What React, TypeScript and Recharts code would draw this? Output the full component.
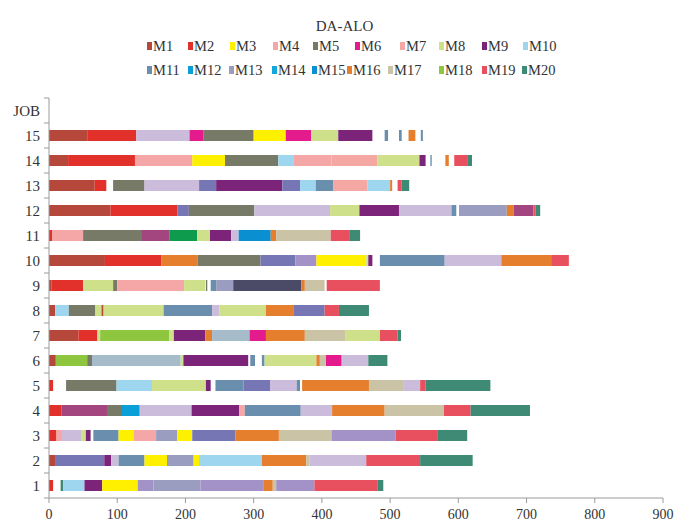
import { Bar, BarChart, Cell, XAxis, YAxis } from "recharts";

// [start, end, machine]
type Seg = [number, number, string];

const MACHINES = [
  "M1", "M2", "M3", "M4", "M5", "M6", "M7", "M8", "M9", "M10",
  "M11", "M12", "M13", "M14", "M15", "M16", "M17", "M18", "M19", "M20",
];

// M21..M27 are extra operation series that the legend leaves out
const COLORS: Record<string, string> = {
  M1: "#b5483a",
  M2: "#e2302a",
  M3: "#fff000",
  M4: "#f4a7a6",
  M5: "#767a67",
  M6: "#e31b8c",
  M7: "#f5a8a3",
  M8: "#cfe08b",
  M9: "#7b2479",
  M10: "#9fd6ef",
  M11: "#6a8eae",
  M12: "#0b9fd8",
  M13: "#9b9dc0",
  M14: "#14a7dd",
  M15: "#0a8fd0",
  M16: "#e57f2e",
  M17: "#cbc3a6",
  M18: "#8ec63f",
  M19: "#e8505f",
  M20: "#3f8a75",
  M21: "#cbbcdc",
  M22: "#7676b4",
  M23: "#a392c8",
  M24: "#a3457f",
  M25: "#0f9b4e",
  M26: "#4c4b67",
  M27: "#a7bccb",
};

const JOB_LABELS = ["JOB", "15", "14", "13", "12", "11", "10", "9", "8", "7", "6", "5", "4", "3", "2", "1"];

const JOB15: Seg[] = [
  [0, 56, "M1"], [56, 128, "M2"], [128, 206, "M21"], [206, 226, "M6"], [226, 300, "M5"],
  [300, 347, "M3"], [347, 384, "M6"], [384, 424, "M8"], [424, 474, "M9"], [492, 497, "M11"],
  [513, 517, "M11"], [527, 537, "M16"], [545, 548, "M11"],
];
const JOB14: Seg[] = [
  [0, 28, "M1"], [28, 126, "M2"], [126, 210, "M4"], [210, 258, "M3"], [258, 336, "M5"],
  [336, 359, "M10"], [359, 414, "M4"], [414, 481, "M7"], [481, 543, "M8"], [543, 552, "M9"],
  [559, 561, "M11"], [581, 586, "M16"], [594, 613, "M19"], [613, 620, "M20"],
];
const JOB13: Seg[] = [
  [0, 67, "M1"], [67, 84, "M2"], [94, 140, "M5"], [140, 220, "M21"], [220, 245, "M22"],
  [245, 342, "M9"], [342, 368, "M22"], [368, 391, "M10"], [391, 417, "M11"], [417, 467, "M7"],
  [467, 500, "M10"], [500, 503, "M16"], [511, 517, "M19"], [517, 528, "M20"],
];
const JOB12: Seg[] = [
  [0, 90, "M1"], [90, 188, "M2"], [188, 205, "M22"], [205, 301, "M5"], [301, 412, "M21"],
  [412, 455, "M8"], [455, 513, "M9"], [513, 590, "M21"], [590, 597, "M11"], [601, 671, "M13"],
  [671, 681, "M16"], [681, 710, "M24"], [710, 713, "M19"], [713, 720, "M20"],
];
const JOB11: Seg[] = [
  [0, 5, "M2"], [5, 50, "M4"], [50, 135, "M5"], [135, 177, "M24"], [177, 217, "M25"],
  [217, 236, "M8"], [236, 267, "M9"], [267, 278, "M21"], [278, 325, "M15"], [325, 333, "M16"],
  [333, 413, "M17"], [413, 440, "M19"], [440, 456, "M20"],
];
const JOB10: Seg[] = [
  [0, 82, "M1"], [82, 165, "M2"], [165, 218, "M16"], [218, 310, "M5"], [310, 361, "M22"],
  [361, 392, "M23"], [392, 465, "M3"], [465, 468, "M8"], [468, 474, "M9"], [485, 580, "M11"],
  [580, 663, "M21"], [663, 736, "M16"], [736, 762, "M19"],
];
const JOB9: Seg[] = [
  [0, 4, "M1"], [4, 50, "M2"], [50, 94, "M8"], [94, 100, "M5"], [100, 198, "M4"],
  [198, 229, "M8"], [230, 232, "M5"], [237, 245, "M11"], [245, 270, "M13"], [270, 370, "M26"],
  [370, 375, "M16"], [375, 404, "M17"], [407, 485, "M19"],
];
const JOB8: Seg[] = [
  [0, 9, "M1"], [9, 29, "M10"], [29, 68, "M5"], [68, 77, "M8"], [77, 80, "M1"],
  [80, 168, "M8"], [168, 239, "M11"], [239, 250, "M21"], [250, 318, "M8"], [318, 359, "M16"],
  [359, 404, "M22"], [404, 425, "M19"], [425, 469, "M20"],
];
const JOB7: Seg[] = [
  [0, 43, "M1"], [43, 71, "M2"], [71, 75, "M8"], [75, 176, "M18"], [176, 183, "M8"],
  [183, 229, "M9"], [229, 239, "M16"], [239, 294, "M27"], [294, 318, "M6"], [318, 375, "M16"],
  [375, 434, "M17"], [434, 485, "M8"], [485, 511, "M19"], [511, 516, "M20"],
];
const JOB6: Seg[] = [
  [0, 10, "M1"], [10, 56, "M18"], [56, 63, "M5"], [63, 193, "M27"], [193, 197, "M8"],
  [197, 292, "M9"], [295, 302, "M11"], [312, 316, "M11"], [316, 392, "M8"], [392, 397, "M16"],
  [397, 406, "M17"], [406, 429, "M6"], [429, 468, "M21"], [468, 496, "M20"],
];
const JOB5: Seg[] = [
  [0, 6, "M2"], [25, 99, "M5"], [99, 151, "M10"], [151, 230, "M8"], [230, 237, "M9"],
  [244, 285, "M11"], [285, 324, "M22"], [324, 363, "M21"], [363, 368, "M11"], [371, 469, "M16"],
  [469, 519, "M17"], [519, 544, "M21"], [544, 552, "M19"], [552, 647, "M20"],
];
const JOB4: Seg[] = [
  [0, 18, "M2"], [18, 85, "M24"], [85, 107, "M5"], [107, 133, "M12"], [133, 209, "M21"],
  [209, 279, "M9"], [279, 287, "M4"], [287, 369, "M11"], [369, 415, "M21"], [415, 492, "M16"],
  [492, 579, "M17"], [579, 618, "M19"], [618, 705, "M20"],
];
const JOB3: Seg[] = [
  [0, 11, "M2"], [11, 19, "M4"], [19, 47, "M21"], [47, 54, "M8"], [54, 61, "M9"],
  [65, 102, "M11"], [102, 124, "M3"], [124, 157, "M4"], [157, 188, "M13"], [188, 210, "M3"],
  [210, 273, "M22"], [273, 337, "M16"], [337, 414, "M17"], [414, 508, "M23"], [508, 569, "M19"],
  [569, 613, "M20"],
];
const JOB2: Seg[] = [
  [0, 10, "M1"], [10, 81, "M22"], [81, 91, "M9"], [91, 102, "M21"], [102, 140, "M11"],
  [140, 173, "M3"], [173, 212, "M13"], [212, 220, "M3"], [220, 312, "M10"], [312, 377, "M16"],
  [377, 382, "M17"], [382, 465, "M21"], [465, 544, "M19"], [544, 621, "M20"],
];
const JOB1: Seg[] = [
  [0, 6, "M2"], [17, 21, "M20"], [21, 52, "M10"], [52, 78, "M9"], [78, 130, "M3"],
  [130, 153, "M23"], [153, 222, "M13"], [222, 314, "M23"], [314, 328, "M16"], [328, 333, "M17"],
  [333, 389, "M23"], [389, 482, "M19"], [482, 490, "M20"],
];

const JOBS: Seg[][] = [
  [], JOB15, JOB14, JOB13, JOB12, JOB11, JOB10, JOB9, JOB8, JOB7, JOB6, JOB5, JOB4, JOB3, JOB2, JOB1,
];

const X_TICKS = [0, 100, 200, 300, 400, 500, 600, 700, 800, 900];

const FONT = "Liberation Serif, serif";
const AXIS = "#9a9a9a";
const TEXT = "#333";

// left edge of each legend swatch, per row
const LEGEND_X1 = [147, 188, 230, 273, 313, 355, 400, 439, 482, 523];
const LEGEND_X2 = [147, 188, 229, 272, 312, 347, 388, 439, 482, 522];

const MAX_SEGS = Math.max(...JOBS.map((j) => j.length));

// Each operation becomes a transparent gap plus a coloured piece in one stack
const rows = JOB_LABELS.map((job, r) => {
  const row: Record<string, any> = { job };
  let prev = 0;
  for (let i = 0; i < MAX_SEGS; i++) {
    const s = JOBS[r][i];
    row[`g${i}`] = s ? s[0] - prev : 0;
    row[`d${i}`] = s ? s[1] - s[0] : 0;
    row[`m${i}`] = s ? s[2] : null;
    if (s) prev = s[1];
  }
  return row;
});

const PLOT_LEFT = 49;
const BAND = 25;

function JobTick({ y, payload, index }: any) {
  return (
    <g>
      <text x={40} y={y} dy={5} textAnchor="end" fontFamily={FONT} fontSize={15} fill={TEXT}>
        {payload.value}
      </text>
      <line x1={PLOT_LEFT - 5} x2={PLOT_LEFT} y1={y + BAND / 2} y2={y + BAND / 2} stroke={AXIS} />
      {index === 0 && (
        <line x1={PLOT_LEFT - 5} x2={PLOT_LEFT} y1={y - BAND / 2} y2={y - BAND / 2} stroke={AXIS} />
      )}
    </g>
  );
}

function LegendRow({ names, xs, top }: { names: string[]; xs: number[]; top: number }) {
  return (
    <>
      {names.map((n, i) => (
        <div
          key={n}
          style={{
            position: "absolute",
            left: xs[i],
            top,
            display: "flex",
            alignItems: "center",
            gap: 1,
            fontFamily: FONT,
            fontSize: 14.5,
            color: TEXT,
            lineHeight: "16px",
            whiteSpace: "nowrap",
          }}
        >
          <span style={{ width: 5, height: 8, background: COLORS[n], display: "inline-block" }} />
          <span>{n}</span>
        </div>
      ))}
    </>
  );
}

export default function App() {
  return (
    <div style={{ position: "absolute", left: 0, top: 0, width: 689, height: 529, background: "#fff" }}>
      <div
        style={{
          position: "absolute",
          left: 0,
          width: 689,
          top: 18,
          textAlign: "center",
          fontFamily: FONT,
          fontSize: 15,
          color: TEXT,
        }}
      >
        DA-ALO
      </div>
      <LegendRow names={MACHINES.slice(0, 10)} xs={LEGEND_X1} top={38} />
      <LegendRow names={MACHINES.slice(10)} xs={LEGEND_X2} top={62} />
      <BarChart
        width={689}
        height={529}
        data={rows}
        layout="vertical"
        margin={{ top: 98, right: 26, bottom: 0, left: 0 }}
        barCategoryGap={0}
        style={{ position: "absolute", left: 0, top: 0 }}
      >
        <XAxis
          type="number"
          domain={[0, 900]}
          ticks={X_TICKS}
          height={31}
          stroke={AXIS}
          tickSize={5}
          tickMargin={6}
          tick={{ fontFamily: FONT, fontSize: 14, fill: TEXT }}
          interval={0}
        />
        <YAxis
          type="category"
          dataKey="job"
          width={PLOT_LEFT}
          stroke={AXIS}
          tickLine={false}
          tick={<JobTick />}
          interval={0}
        />
        {Array.from({ length: MAX_SEGS }).flatMap((_, i) => [
          <Bar
            key={`g${i}`}
            dataKey={`g${i}`}
            stackId="job"
            fill="transparent"
            barSize={11}
            isAnimationActive={false}
          />,
          <Bar key={`d${i}`} dataKey={`d${i}`} stackId="job" barSize={11} isAnimationActive={false}>
            {rows.map((row, r) => (
              <Cell key={r} fill={row[`m${i}`] ? COLORS[row[`m${i}`]] : "transparent"} />
            ))}
          </Bar>,
        ])}
      </BarChart>
    </div>
  );
}
